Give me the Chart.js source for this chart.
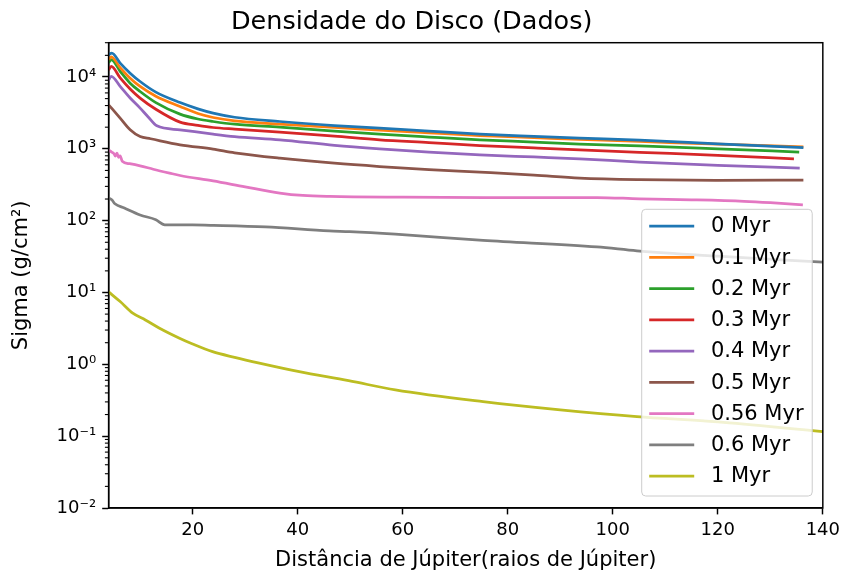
<!DOCTYPE html>
<html>
<head>
<meta charset="utf-8">
<title>Densidade do Disco (Dados)</title>
<script src="https://cdn.jsdelivr.net/npm/chart.js@4.4.0/dist/chart.umd.min.js"></script>
<style>
  html, body { margin: 0; padding: 0; background: #fff; }
</style>
</head>
<body>
<canvas id="myChart" width="845" height="579"></canvas>
<script>
// series labels and colours (matplotlib tab10)
const seriesLabels = ['0 Myr', '0.1 Myr', '0.2 Myr', '0.3 Myr', '0.4 Myr', '0.5 Myr', '0.56 Myr', '0.6 Myr', '1 Myr'];
const seriesColors = ['#1f77b4', '#ff7f0e', '#2ca02c', '#d62728', '#9467bd', '#8c564b', '#e377c2', '#7f7f7f', '#bcbd22'];

// distance (Jupiter radii) and surface density (g/cm^2)
const dist0 = [4.0, 4.6, 6.2, 8.1, 10, 13, 17.6, 21, 23.9, 28, 36.6, 47, 55.6, 65, 74.7, 85, 93.7, 105.1, 120, 136.3];
const sigma0 = [20400, 21500, 15600, 11300, 8650, 6150, 4400, 3600, 3140, 2750, 2400, 2110, 1940, 1760, 1600, 1490, 1410, 1320, 1175, 1040];

const dist1 = [4.0, 4.5, 6.2, 8.1, 10, 13, 17.6, 21, 23.9, 28, 36.6, 47, 55.6, 65, 74.7, 85, 93.7, 105.1, 120, 136.3];
const sigma1 = [17500, 19000, 13500, 9600, 7380, 5400, 3880, 3100, 2730, 2450, 2210, 1980, 1820, 1670, 1530, 1430, 1350, 1265, 1160, 1065];

const dist2 = [4.0, 4.5, 6.2, 8.1, 10, 13, 17.6, 21, 23.9, 28, 36.6, 47, 55.6, 65, 74.7, 85, 93.7, 105.1, 120, 135.5];
const sigma2 = [15800, 17400, 12000, 8200, 6280, 4400, 3040, 2600, 2400, 2200, 2000, 1760, 1600, 1460, 1335, 1240, 1160, 1100, 1000, 900];

const dist3 = [4.0, 4.5, 6.2, 8.1, 10, 13, 17.6, 21, 23.9, 28, 36.6, 47, 55.6, 65, 74.7, 85, 93.7, 105.1, 120, 134.5];
const sigma3 = [12500, 14000, 9700, 6800, 5080, 3550, 2350, 2120, 1980, 1880, 1710, 1500, 1335, 1220, 1110, 1030, 968, 895, 810, 726];

const dist4 = [4.0, 4.5, 6.2, 8.1, 10, 11.5, 13.2, 17.6, 23.9, 28, 36.6, 47, 55.6, 65, 74.7, 85, 93.7, 105.1, 120, 135.6];
const sigma4 = [9000, 10200, 7400, 5100, 3690, 2800, 2090, 1840, 1600, 1480, 1335, 1120, 1000, 900, 825, 770, 726, 653, 590, 538];

const dist5 = [4.0, 6.2, 8.1, 10, 12, 17.6, 23.9, 28, 36.6, 47, 55.6, 65, 74.7, 85, 93.7, 105.1, 120, 136.3];
const sigma5 = [4100, 2680, 1840, 1480, 1380, 1137, 990, 880, 742, 630, 567, 515, 473, 430, 391, 372, 365, 368];

const dist6 = [4.0, 4.6, 5.0, 5.3, 5.6, 5.9, 6.2, 6.6, 8, 10, 12.5, 15.6, 17.6, 23.9, 30, 36.6, 41, 46.1, 60, 76.3, 97, 105.1, 115, 125, 130, 136.2];
const sigma6 = [960, 900, 860, 790, 870, 760, 800, 670, 620, 580, 520, 459, 425, 358, 295, 242, 224, 217, 212, 210, 210, 201, 195, 186, 178, 166];

const dist7 = [4.0, 4.6, 5.2, 7, 10, 13, 14.7, 20, 24, 33.9, 46, 49.9, 58.6, 75.3, 97, 104.6, 120, 140, 145];
const sigma7 = [206, 195, 172, 150, 120, 103, 87.5, 87, 86, 82, 72, 70.5, 65, 53, 43, 38, 32, 26.4, 25];

const dist8 = [4.0, 6.2, 8.6, 11, 13.7, 17.5, 20, 23.8, 28, 32.7, 40.3, 49.7, 58.6, 75.3, 90, 104.6, 120, 140, 145];
const sigma8 = [10.2, 7.47, 5.15, 4.15, 3.18, 2.31, 1.92, 1.50, 1.25, 1.04, 0.79, 0.593, 0.44, 0.302, 0.232, 0.187, 0.158, 0.116, 0.108];

const distances = [dist0, dist1, dist2, dist3, dist4, dist5, dist6, dist7, dist8];
const sigmas = [sigma0, sigma1, sigma2, sigma3, sigma4, sigma5, sigma6, sigma7, sigma8];

// axis ticks
const xTicks = [20, 40, 60, 80, 100, 120, 140];
const yTicks = [1e-2, 1e-1, 1e0, 1e1, 1e2, 1e3, 1e4];
const yTickLabels = ['10\u207B\u00B2', '10\u207B\u00B9', '10\u2070', '10\u00B9', '10\u00B2', '10\u00B3', '10\u2074'];

Chart.defaults.font.family = "'DejaVu Sans', sans-serif";
Chart.defaults.color = '#000';

// minor log ticks, the full axes frame and a matplotlib-like legend
const axesExtras = {
    id: 'axesExtras',
    afterDraw(chart) {
        const ctx = chart.ctx;
        const area = chart.chartArea;
        const y = chart.scales.y;
        ctx.save();

        // minor ticks on the log axis
        ctx.strokeStyle = '#000';
        ctx.lineWidth = 1.1;
        yTicks.forEach(function(base) {
            for (let k = 2; k <= 9; k++) {
                const v = base * k;
                if (v > y.max) continue;
                const p = y.getPixelForValue(v);
                ctx.beginPath();
                ctx.moveTo(area.left, p);
                ctx.lineTo(area.left - 3.7, p);
                ctx.stroke();
            }
        });

        // frame
        ctx.lineWidth = 1.47;
        ctx.strokeRect(area.left, area.top, area.right - area.left, area.bottom - area.top);

        // legend (lower right)
        const fontSize = 21;
        ctx.font = fontSize + "px 'DejaVu Sans'";
        let textW = 0;
        chart.data.datasets.forEach(function(ds) {
            textW = Math.max(textW, ctx.measureText(ds.label).width);
        });
        const rowH = 31.25;
        const boxW = 7.5 + 45 + 16.7 + textW + 8.7;
        const boxH = 16.7 + rowH * (chart.data.datasets.length - 1) + 20;
        const bx = area.right - 10.6 - boxW;
        const by = area.bottom - 12 - boxH;

        ctx.beginPath();
        ctx.roundRect(bx, by, boxW, boxH, 4);
        ctx.fillStyle = 'rgba(255,255,255,0.8)';
        ctx.fill();
        ctx.strokeStyle = '#cccccc';
        ctx.lineWidth = 1;
        ctx.stroke();

        ctx.textBaseline = 'middle';
        ctx.textAlign = 'left';
        chart.data.datasets.forEach(function(ds, i) {
            const cy = by + 16.7 + i * rowH;
            ctx.strokeStyle = ds.borderColor;
            ctx.lineWidth = 2.75;
            ctx.beginPath();
            ctx.moveTo(bx + 7.5, cy);
            ctx.lineTo(bx + 52.5, cy);
            ctx.stroke();
            ctx.fillStyle = '#000';
            ctx.fillText(ds.label, bx + 69.2, cy + 1);
        });
        ctx.restore();
    }
};

const ctx = document.getElementById('myChart');
const myChart = new Chart(ctx.getContext('2d'), {
    type: 'line',
    data: {
        datasets: seriesLabels.map(function(label, i) {
            return {
                label: label,
                data: distances[i].map(function(x, j) { return { x: x, y: sigmas[i][j] }; }),
                borderColor: seriesColors[i],
                backgroundColor: seriesColors[i],
                borderWidth: 2.75,
                pointRadius: 0,
                cubicInterpolationMode: 'monotone',
                clip: 0
            };
        })
    },
    options: {
        responsive: false,
        animation: false,
        layout: { padding: { left: 0, right: 21.7, top: 0, bottom: 0 } },
        plugins: {
            legend: { display: false },
            tooltip: { enabled: false },
            title: {
                display: true,
                text: 'Densidade do Disco (Dados)',
                color: '#000',
                font: { size: 25.5, weight: 'normal' },
                padding: { top: 6.7, bottom: 5.4 }
            }
        },
        scales: {
            x: {
                type: 'linear',
                min: 4,
                max: 140,
                afterBuildTicks: function(scale) {
                    scale.ticks = xTicks.map(function(v) { return { value: v }; });
                },
                afterFit: function(scale) { scale.height = 71; },
                ticks: {
                    font: { size: 18 },
                    color: '#000',
                    padding: 5,
                    maxRotation: 0,
                    autoSkip: false
                },
                grid: {
                    drawOnChartArea: false,
                    drawTicks: true,
                    tickLength: 6.4,
                    tickWidth: 1.47,
                    tickColor: '#000'
                },
                border: { display: true, color: '#000', width: 1.47 },
                title: {
                    display: true,
                    text: 'Distância de Júpiter(raios de Júpiter)',
                    color: '#000',
                    font: { size: 21 },
                    padding: { top: 2, bottom: 5.4 }
                }
            },
            y: {
                type: 'logarithmic',
                min: 0.01,
                max: 30000,
                afterBuildTicks: function(scale) {
                    scale.ticks = yTicks.map(function(v) { return { value: v, major: true }; });
                },
                afterFit: function(scale) { scale.width = 108.6; },
                ticks: {
                    font: { size: 18 },
                    color: '#000',
                    padding: 6,
                    autoSkip: false,
                    callback: function(value) {
                        const i = yTicks.findIndex(function(t) { return Math.abs(t - value) / t < 1e-6; });
                        return i >= 0 ? yTickLabels[i] : '';
                    }
                },
                grid: {
                    drawOnChartArea: false,
                    drawTicks: true,
                    tickLength: 6.4,
                    tickWidth: 1.47,
                    tickColor: '#000'
                },
                border: { display: true, color: '#000', width: 1.47 },
                title: {
                    display: true,
                    text: 'Sigma (g/cm²)',
                    color: '#000',
                    font: { size: 21 },
                    padding: { top: 9.4, bottom: 2 }
                }
            }
        }
    },
    plugins: [axesExtras]
});
</script>
</body>
</html>
